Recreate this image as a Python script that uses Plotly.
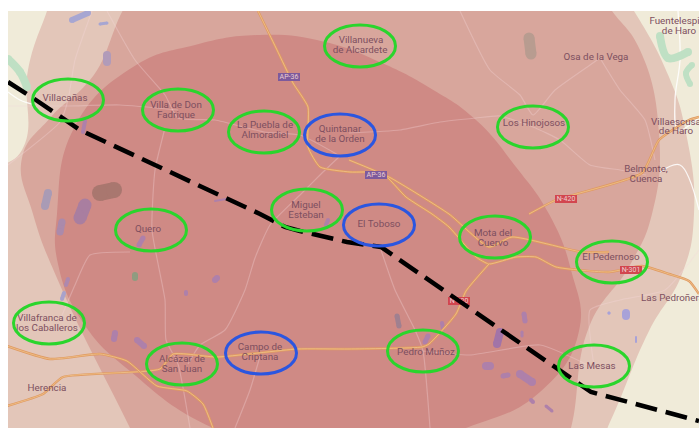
import plotly.graph_objects as go

# ---- regions (pixel-based map coordinates) ----
light_x = [62,47,28,22,-25,-25,585,610,649,682,694,686,669,634,605]
light_y = [-30,11,70,150,185,465,470,422,331,274,214,133,77,11,-30]
mid_x = [165,90,50,22,33,60,130,150,556,571,589,630,652,659,640,612,585]
mid_y = [-30,80,118,158,214,285,428,470,470,428,327,265,214,133,50,11,-25]
dark_x = [57,74,133,195,260,325,382,430,476,516,549,571,579,540,466,340,213,130,84,58]
dark_y = [214,128,67,45,35,42,63,88,120,167,214,270,331,392,428,462,428,371,324,264]

# ---- roads ----
main_roads = [
 ([258,277,293,308,308,320,350,382,406,432,449,476,489,516,536,556,609,642,669,689,699],
  [11,50,83,107,147,167,172,173,197,214,227,257,264,257,257,267,272,266,274,281,294]),
 ([349,389,449,489,512,582,609],[160,177,214,247,237,252,252]),
 ([529,556,642,659,689,699],[214,200,173,140,120,117]),
 ([489,466,456,429,422,349,297,217,173,160,63,43,7],[264,291,314,344,347,349,349,357,354,369,377,394,406]),
 ([7,50,100,127,157,187,203,213],[346,359,354,361,386,391,404,428]),
]
minor_roads = [
 ([107,135,165,178,215,264,300,340],[11,60,95,118,120,132,135,156]),
 ([8,68,120,178],[106,106,105,110]),
 ([92,75,68,60,8],[11,60,100,122,165]),
 ([165,155,152,165,166,178,190],[128,170,230,300,340,364,428]),
 ([349,400,440,476,500,533,560,590,620,646],[133,130,122,118,116,127,140,165,170,175]),
 ([460,490,520,533,555,590,600],[11,70,95,115,90,65,58]),
 ([600,620,645,655],[58,90,120,160]),
 ([340,320,300,270,255,245,225,200,188],[156,175,195,225,258,290,330,345,364]),
 ([130,90,75,60],[252,255,285,320]),
 ([381,395,415,423,430],[250,290,330,351,428]),
 ([423,470,540,590],[351,355,345,366]),
 ([594,590,620,665,699],[366,310,300,290,250]),
 ([261,250,235],[353,390,428]),
]
white_roads = [
 ([678,680,675,678,699],[11,60,100,130,118]),
 ([8,20,35],[92,100,105]),
 ([699,680,660],[210,165,172]),
]
# ---- water and green patches: (x list, y list, stroke size, colour) ----
lakes = [
 ([88,72],[13,20],6,"#a7a6d2"),([100,107],[24,23],3,"#a7a6d2"),([107,107],[55,62],8,"#b19bb9"),
 ([48,45],[193,206],8,"#a99bb5"),([100,114],[193,190],16,"#a9776f"),([85,80],[205,218],13,"#a97ea0"),
 ([62,60],[222,232],7,"#ab8aab"),([68,66],[279,285],4,"#ae88ae"),([64,62],[293,299],4,"#a8a2cc"),
 ([115,114],[333,339],6,"#ae80aa"),([137,144],[340,346],6,"#ae80aa"),([143,139],[238,245],5,"#ae80aa"),
 ([135,135],[275,278],6,"#8f9c80"),([215,217],[280,278],6,"#ae80aa"),([186,186],[292,294],4,"#ae80aa"),
 ([85,83],[121,132],4,"#ae80aa"),([215,226],[201,199],2,"#ae80aa"),([328,326],[220,225],4,"#ae80aa"),
 ([529,531],[38,54],11,"#b89c90"),([397,399],[316,326],5,"#a08090"),([442,443],[323,329],4,"#ae80aa"),
 ([428,425],[336,342],5,"#ae80aa"),([500,497],[332,344],8,"#a274a8"),([524,525],[314,321],5,"#ae80aa"),
 ([522,522],[332,336],3,"#ae80aa"),([486,490],[366,366],8,"#ae80aa"),([503,508],[376,375],5,"#ae80aa"),
 ([520,532],[374,382],8,"#ae80aa"),([531,533],[400,402],4,"#ae80aa"),([546,552],[406,411],3,"#ae80aa"),
 ([626,626],[313,316],8,"#a8a2d8"),([609,609],[313,313],3,"#a8a2d8"),([636,636],[337,342],2,"#a8a2d8"),
 ([8,20,27],[59,72,87],8,"#bfe0c4"),([660,668,688],[36,58,52],8,"#bfe0c4"),([692,686,690],[65,73,84],6,"#bfe0c4"),
]

# ---- dashed line ----
dash_x = [8,33,80,260,285,300,347,381,591,699]
dash_y = [82,98,130,214,227,231,242,247,392,421]

# ---- circled towns ----
green_x = [68,178,264,360,533,307,151,182,49,495,612,423,594]
green_y = [100,110,132,46,127,210,230,364,323,237,262,351,366]
blue_x = [340,379,261]
blue_y = [135,225,353]
town_rx = 35.5
town_ry = 21

# ---- labels: one entry per line of text ----
label_text = ["Villacañas","Villa de Don","Fadrique","La Puebla de","Almoradiel","Villanueva","de Alcardete",
              "Los Hinojosos","Miguel","Esteban","Quero","Alcázar de","San Juan","Villafranca de","los Caballeros",
              "Mota del","Cuervo","El Pedernoso","Pedro Muñoz","Las Mesas","Quintanar","de la Orden","El Toboso",
              "Campo de","Criptana","Osa de la Vega","Fuentelespino","de Haro","Villaescusa","de Haro","Belmonte,",
              "Cuenca","Las Pedroñeras","Herencia"]
label_x = [65,176,176,265,265,361,360,534,306,306,148,182,182,47,47,493,493,611,426,592,340,340,379,260,260,
           596,680,679,676,676,646,646,675,47]
label_y = [99,106,116,126,136,41,51,124,206,216,230,360,370,319,329,234,244,258,353,367,130,140,225,348,358,
           58,22,32,123,132,170,180,299,389]

shield_names = ["AP-36","AP-36","N-420","N-301","N-420"]
shield_x = [289,376,566,631,459]
shield_y = [77,175,199,270,301]
shield_colors = ["#7d5a9c","#7d5a9c","#d2464f","#d2464f","#d2464f"]

CREAM, LIGHT, MID, DARK = "#f0ebd9", "#e3c6b9", "#d8a69c", "#cf8a85"
LABEL = "#7d4f60"

fig = go.Figure()
for xs, ys, c in [(light_x, light_y, LIGHT), (mid_x, mid_y, MID), (dark_x, dark_y, DARK)]:
    fig.add_trace(go.Scatter(x=xs+xs[:1], y=ys+ys[:1], fill="toself", fillcolor=c, mode="lines",
                             line=dict(width=0, color=c, shape="spline", smoothing=1.3), hoverinfo="skip"))
for xs, ys in white_roads:
    fig.add_trace(go.Scatter(x=xs, y=ys, mode="lines", hoverinfo="skip",
                             line=dict(color="rgba(255,255,255,0.85)", width=1.3, shape="spline")))
for xs, ys in minor_roads:
    fig.add_trace(go.Scatter(x=xs, y=ys, mode="lines", hoverinfo="skip",
                             line=dict(color="rgba(245,215,220,0.33)", width=1.2, shape="spline", smoothing=0.5)))
for xs, ys, w, c in lakes:
    fig.add_trace(go.Scatter(x=xs, y=ys, mode="lines+markers", hoverinfo="skip",
                             marker=dict(color=c, size=w, line_width=0),
                             line=dict(color=c, width=w, shape="spline")))
for xs, ys in main_roads:
    fig.add_trace(go.Scatter(x=xs, y=ys, mode="lines", hoverinfo="skip",
                             line=dict(color="#e09a62", width=2.4, shape="spline", smoothing=0.5)))
    fig.add_trace(go.Scatter(x=xs, y=ys, mode="lines", hoverinfo="skip",
                             line=dict(color="#f0c48c", width=0.8, shape="spline", smoothing=0.5)))
for x, y, c in zip(shield_x, shield_y, shield_colors):
    fig.add_trace(go.Scatter(x=[x-11, x+11], y=[y, y], mode="lines", hoverinfo="skip",
                             line=dict(color=c, width=8)))
fig.add_trace(go.Scatter(x=shield_x, y=shield_y, mode="text", text=shield_names, hoverinfo="skip",
                         textfont=dict(family="Roboto", size=7, color="#eccfd0")))
lab_font = dict(family="Roboto", size=9.8, color=LABEL)
fig.add_trace(go.Scatter(x=label_x, y=label_y, mode="text", text=label_text, textposition="middle center",
                         textfont=lab_font, hoverinfo="skip"))
fig.add_trace(go.Scatter(x=dash_x, y=dash_y, mode="lines", hoverinfo="skip",
                         line=dict(color="black", width=4.5, dash="22px,9px")))

shapes = [dict(type="rect", layer="below", x0=8, x1=699, y0=11, y1=428, fillcolor=CREAM, line_width=0),
          dict(type="rect", layer="above", x0=0, x1=699, y0=0, y1=11, fillcolor="white", line_width=0),
          dict(type="rect", layer="above", x0=0, x1=8, y0=0, y1=428, fillcolor="white", line_width=0)]
for xs, ys, c in [(green_x, green_y, "#2ad52c"), (blue_x, blue_y, "#2b56e0")]:
    for x, y in zip(xs, ys):
        shapes.append(dict(type="circle", layer="above", x0=x-town_rx, x1=x+town_rx, y0=y-town_ry, y1=y+town_ry,
                           line=dict(color=c, width=3), fillcolor="rgba(0,0,0,0)"))

fig.update_layout(width=699, height=428, margin=dict(l=0, r=0, t=0, b=0), showlegend=False,
                  paper_bgcolor="white", plot_bgcolor="white", shapes=shapes,
                  xaxis=dict(range=[0,699], visible=False, fixedrange=True),
                  yaxis=dict(range=[428,0], visible=False, fixedrange=True))
fig.write_html("out.html", config=dict(displayModeBar=False),
               post_script="document.body.style.margin='0';document.body.style.overflow='hidden';")
